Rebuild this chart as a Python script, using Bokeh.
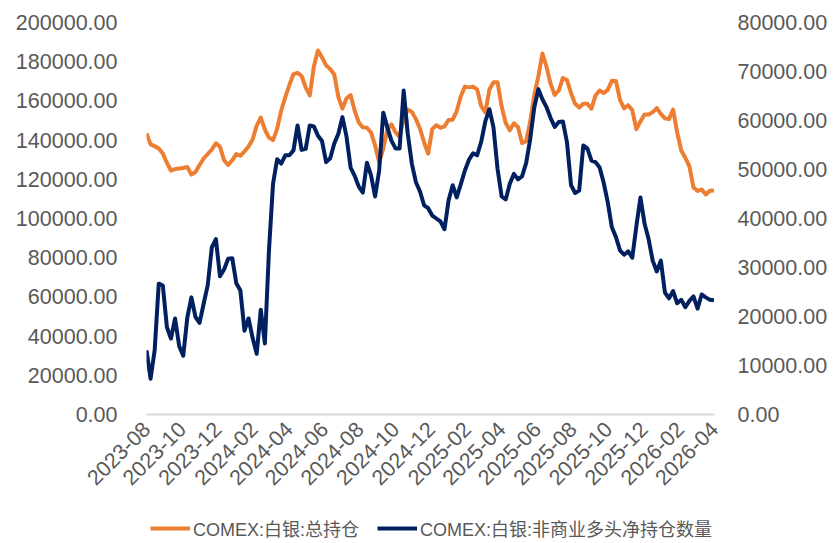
import pandas as pd
from bokeh.plotting import figure
from bokeh.layouts import column
from bokeh.models import (Range1d, LinearAxis, FixedTicker, NumeralTickFormatter,
                          DatetimeTickFormatter, Legend, LegendItem, ColumnDataSource)
from bokeh.embed import file_html
from bokeh.resources import INLINE
import math

# ---------------- data ----------------
start_date = "2023-08-01"
n_weeks = 140
dates = pd.date_range(start_date, periods=n_weeks, freq="7D")

total_oi = [143400, 137800, 136900, 135700, 133200, 128300, 124500, 125200, 125500, 125800,
            126300, 122400, 123700, 127300, 130600, 132900, 135200, 138400, 136600, 129700,
            127300, 129700, 132900, 132000, 134200, 136700, 140300, 147400, 151500, 145400,
            141300, 140000, 145700, 155100, 161900, 168100, 173700, 174300, 172700, 166800,
            162800, 177600, 185700, 182200, 178100, 176300, 173500, 162000, 156100, 161200,
            163000, 155000, 149000, 146500, 146300, 143900, 137200, 128600, 135500, 145400,
            148000, 143900, 141700, 150700, 155600, 154400, 150700, 145800, 138800, 133100,
            145600, 147600, 146200, 147000, 150300, 150400, 154800, 162400, 167300, 166900,
            167200, 165900, 157300, 154100, 165800, 169500, 169500, 157100, 148700, 145000,
            148600, 146700, 138500, 139400, 149500, 163100, 172600, 184200, 177300, 168700,
            163000, 165300, 171700, 170700, 163900, 158500, 156600, 158500, 158500, 156000,
            162800, 165300, 164000, 165600, 170300, 170200, 160500, 156200, 157800, 155300,
            145600, 149500, 153100, 153000, 154300, 156300, 153400, 151100, 150700, 155600,
            143900, 134700, 131000, 126600, 115800, 114100, 114800, 112300, 114100, 114300]

net_long = [13100, 7300, 13100, 26700, 26300, 17800, 15500, 19600, 14000, 12000,
            19800, 23900, 19900, 18700, 22600, 26400, 34100, 35800, 28200, 29600,
            31800, 31900, 26800, 25300, 17100, 19600, 15600, 12400, 21400, 14500,
            33500, 47100, 52100, 51200, 52900, 52900, 53900, 59000, 54000, 54200,
            59000, 58800, 56900, 55800, 51500, 52300, 55300, 57300, 60700, 56700,
            50400, 48700, 46500, 45300, 51400, 48800, 44500, 49800, 61600, 58600,
            55900, 54300, 54300, 66100, 57300, 51200, 47400, 45500, 42700, 42100,
            40600, 40000, 39400, 37800, 43700, 46800, 44300, 47000, 49800, 52000,
            53300, 52900, 55700, 59800, 62300, 58600, 50100, 44500, 43900, 47100,
            49100, 48000, 48600, 51300, 56200, 62700, 66400, 64300, 62700, 60500,
            58700, 59700, 59800, 55600, 46800, 45200, 45700, 54900, 54300, 51800,
            51500, 50400, 47300, 43300, 38200, 36200, 33500, 32600, 33300, 32000,
            38400, 44300, 39000, 35800, 31400, 29200, 31400, 24900, 23700, 25200,
            22700, 23400, 21900, 23200, 24100, 21600, 24500, 23900, 23400, 23300]

x_tick_labels = ["2023-08", "2023-10", "2023-12", "2024-02", "2024-04", "2024-06",
                 "2024-08", "2024-10", "2024-12", "2025-02", "2025-04", "2025-06",
                 "2025-08", "2025-10", "2025-12", "2026-02", "2026-04"]
left_ticks = [0, 20000, 40000, 60000, 80000, 100000, 120000, 140000, 160000, 180000, 200000]
right_ticks = [0, 10000, 20000, 30000, 40000, 50000, 60000, 70000, 80000]

name_total = "COMEX:白银:总持仓"
name_net = "COMEX:白银:非商业多头净持仓数量"

# ---------------- styling ----------------
ORANGE = "#ED7D31"
NAVY = "#002060"
GREY_TXT = "#595959"
FONT = "Liberation Sans, Noto Sans CJK SC"
FS = "21.5px"
FS_LEG = "18px"
LW = 4

W = 830
H_MAIN = 500
H_LEG = 41
FRAME_L, FRAME_R, FRAME_T, FRAME_B = 146, 715, 22, 414

src = ColumnDataSource(dict(date=dates, total=total_oi, net=net_long))

x_start = pd.Timestamp(x_tick_labels[0] + "-01")
x_end = pd.Timestamp(x_tick_labels[-1] + "-01")

p = figure(width=W, height=H_MAIN, x_axis_type="datetime",
           output_backend="svg", toolbar_location=None,
           x_range=Range1d(x_start, x_end), y_range=Range1d(left_ticks[0], left_ticks[-1]),
           min_border_left=FRAME_L, min_border_right=W - FRAME_R, min_border_top=FRAME_T,
           min_border_bottom=H_MAIN - FRAME_B)
p.outline_line_color = None
p.xgrid.visible = False
p.ygrid.visible = False

p.extra_y_ranges = {"right": Range1d(right_ticks[0], right_ticks[-1])}

r1 = p.line("date", "total", source=src, line_color=ORANGE, line_width=LW,
            line_join="round")
r2 = p.line("date", "net", source=src, line_color=NAVY, line_width=LW,
            line_join="round", y_range_name="right")

# x axis
xa = p.xaxis[0]
tick_ms = [pd.Timestamp(t + "-01").value / 1e6 for t in x_tick_labels]
xa.ticker = FixedTicker(ticks=tick_ms)
xa.formatter = DatetimeTickFormatter(days="%Y-%m", months="%Y-%m", years="%Y-%m")
xa.major_label_orientation = math.pi / 4
xa.major_tick_line_color = None
xa.minor_tick_line_color = None
xa.axis_line_color = "#D9D9D9"
xa.axis_line_width = 2
xa.major_label_text_color = GREY_TXT
xa.major_label_text_font = FONT
xa.major_label_text_font_size = FS
xa.major_label_standoff = 5

# left axis
ya = p.yaxis[0]
ya.ticker = FixedTicker(ticks=left_ticks)
ya.formatter = NumeralTickFormatter(format="0.00")
ya.axis_line_color = None
ya.major_tick_line_color = None
ya.minor_tick_line_color = None
ya.major_tick_out = 0
ya.major_label_text_color = GREY_TXT
ya.major_label_text_font = FONT
ya.major_label_text_font_size = FS
ya.major_label_standoff = 29

# right axis
ra = LinearAxis(y_range_name="right", ticker=FixedTicker(ticks=right_ticks),
                formatter=NumeralTickFormatter(format="0.00"))
ra.axis_line_color = None
ra.major_tick_line_color = None
ra.minor_tick_line_color = None
ra.major_tick_out = 0
ra.major_label_text_color = GREY_TXT
ra.major_label_text_font = FONT
ra.major_label_text_font_size = FS
ra.major_label_standoff = 23
p.add_layout(ra, "right")

# ---------------- legend strip (separate thin figure under the chart) ----------------
lg = figure(width=W, height=H_LEG, output_backend="svg", toolbar_location=None,
            x_axis_location=None, y_axis_location=None, min_border=0,
            x_range=Range1d(x_start, x_end), y_range=Range1d(-2, -1))
lg.outline_line_color = None
lg.xgrid.visible = False
lg.ygrid.visible = False
# same series, drawn outside this strip's visible range; used only for the legend keys
k1 = lg.line("date", "total", source=src, line_color=ORANGE, line_width=LW)
k2 = lg.line("date", "net", source=src, line_color=NAVY, line_width=LW)
legend = Legend(items=[LegendItem(label=name_total, renderers=[k1]),
                       LegendItem(label=name_net, renderers=[k2])],
                orientation="horizontal", location=(4, 0),
                label_text_font=FONT, label_text_font_size=FS_LEG,
                label_text_color=GREY_TXT, glyph_width=40, glyph_height=20,
                label_standoff=3, spacing=18, padding=0, margin=0,
                border_line_color=None, background_fill_alpha=0)
lg.add_layout(legend, "center")

layout = column(p, lg, spacing=0)
open("out.html", "w").write(file_html(layout, INLINE))
